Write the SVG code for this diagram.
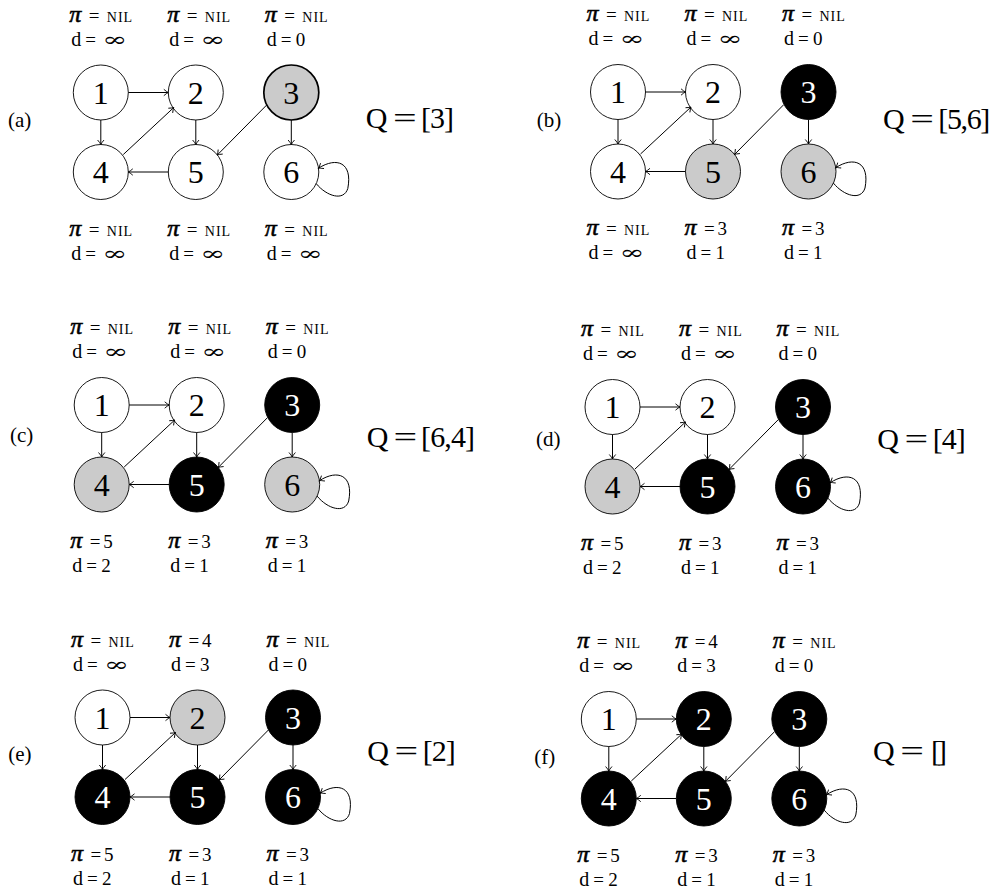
<svg xmlns="http://www.w3.org/2000/svg" width="992" height="892" viewBox="0 0 992 892">
<defs>
<marker id="arr" viewBox="-6 -5 8 10" markerWidth="8" markerHeight="10" refX="0" refY="0" orient="auto" markerUnits="userSpaceOnUse">
<path d="M-4.5,-3.2 Q-1.5,-0.6 0,0 Q-1.5,0.6 -4.5,3.2" fill="none" stroke="#000" stroke-width="0.9"/>
</marker>
<style>
.t{font-family:"Liberation Serif","DejaVu Serif",serif;fill:#000}
.nd{stroke:#000;stroke-width:0.9}
.w{fill:#fff}.g{fill:#cbcbcb}.b{fill:#000}
.thick{stroke-width:1.7}
.num{font-family:"Liberation Serif","DejaVu Serif",serif;font-size:32px;text-anchor:middle;fill:#000}
.num.wt{fill:#fff}
.e{fill:none;stroke:#000;stroke-width:1;marker-end:url(#arr)}
.pi{font-style:italic;font-size:24px;stroke:#000;stroke-width:0.6}
.eq{font-size:19px}
.nil{font-size:14px;letter-spacing:1px}
.dd{font-size:20px}
.v{font-size:19px}
.inf{font-size:19px;font-family:"DejaVu Serif","Liberation Serif",serif}
.lab{font-size:21px}
.q{font-size:30px}
</style>
</defs>
<rect width="992" height="892" fill="#fff"/>

<!-- ===================== (a) ===================== -->
<g id="panel-a">
<text class="t lab" x="8" y="127">(a)</text>
<text class="t q" x="365.7" y="128">Q</text>
<text class="t q" transform="translate(392.9,128) scale(1.4,1)">=</text>
<text class="t q" x="421" y="128" textLength="33">[3]</text>
<g transform="translate(100.8,92.5)">
<g id="a-n1"><circle class="nd w" cx="0" cy="0" r="27.5"/><text class="num" x="0" y="11">1</text></g>
<g id="a-n2"><circle class="nd w" cx="95" cy="0" r="27.5"/><text class="num" x="95" y="11">2</text></g>
<g id="a-n3"><circle class="nd g thick" cx="190.5" cy="0" r="27.5"/><text class="num" x="190.5" y="11">3</text></g>
<g id="a-n4"><circle class="nd w" cx="0" cy="79.5" r="27.5"/><text class="num" x="0" y="90.5">4</text></g>
<g id="a-n5"><circle class="nd w" cx="95" cy="79.5" r="27.5"/><text class="num" x="95" y="90.5">5</text></g>
<g id="a-n6"><circle class="nd w" cx="190.5" cy="79.5" r="27.5"/><text class="num" x="190.5" y="90.5">6</text></g>
<g id="a-edges">
<path class="e" d="M27.5,0 H67.5"/>
<path class="e" d="M0,27.5 V52"/>
<path class="e" d="M95,27.5 V52"/>
<path class="e" d="M190.5,27.5 V52"/>
<path class="e" d="M67.5,79.5 H27.5"/>
<path class="e" d="M22.5,62 L73,15"/>
<path class="e" d="M165.9,12.5 L116.5,62.5"/>
<path class="e" d="M215.4,91.1 C226,104 243,109 247,96 C252,70 236,64 217.7,75.7"/>
</g>
<g id="a-labels">
<text class="t" y="-71"><tspan class="pi" x="-31.5">π</tspan><tspan class="eq" x="-12">=</tspan><tspan class="nil" x="6">NIL</tspan></text>
<text class="t" y="-47"><tspan class="dd" x="-29.5">d</tspan><tspan class="eq" x="-15.5">=</tspan></text><text class="t inf" x="1.5" y="-47" textLength="25" lengthAdjust="spacingAndGlyphs">∞</text>
<text class="t" y="-71"><tspan class="pi" x="66.5">π</tspan><tspan class="eq" x="86">=</tspan><tspan class="nil" x="104">NIL</tspan></text>
<text class="t" y="-47"><tspan class="dd" x="68.5">d</tspan><tspan class="eq" x="82.5">=</tspan></text><text class="t inf" x="99.5" y="-47" textLength="25" lengthAdjust="spacingAndGlyphs">∞</text>
<text class="t" y="-71"><tspan class="pi" x="164">π</tspan><tspan class="eq" x="183.5">=</tspan><tspan class="nil" x="201.5">NIL</tspan></text>
<text class="t" y="-47"><tspan class="dd" x="166">d</tspan><tspan class="eq" x="180">=</tspan><tspan class="v" x="195">0</tspan></text>
<text class="t" y="143"><tspan class="pi" x="-31.5">π</tspan><tspan class="eq" x="-12">=</tspan><tspan class="nil" x="6">NIL</tspan></text>
<text class="t" y="167"><tspan class="dd" x="-29.5">d</tspan><tspan class="eq" x="-15.5">=</tspan></text><text class="t inf" x="1.5" y="167" textLength="25" lengthAdjust="spacingAndGlyphs">∞</text>
<text class="t" y="143"><tspan class="pi" x="66.5">π</tspan><tspan class="eq" x="86">=</tspan><tspan class="nil" x="104">NIL</tspan></text>
<text class="t" y="167"><tspan class="dd" x="68.5">d</tspan><tspan class="eq" x="82.5">=</tspan></text><text class="t inf" x="99.5" y="167" textLength="25" lengthAdjust="spacingAndGlyphs">∞</text>
<text class="t" y="143"><tspan class="pi" x="164">π</tspan><tspan class="eq" x="183.5">=</tspan><tspan class="nil" x="201.5">NIL</tspan></text>
<text class="t" y="167"><tspan class="dd" x="166">d</tspan><tspan class="eq" x="180">=</tspan></text><text class="t inf" x="197" y="167" textLength="25" lengthAdjust="spacingAndGlyphs">∞</text>
</g>
</g>
</g>

<!-- ===================== (b) ===================== -->
<g id="panel-b">
<text class="t lab" x="536.7" y="127">(b)</text>
<text class="t q" x="883" y="129">Q</text>
<text class="t q" transform="translate(910.3,129) scale(1.4,1)">=</text>
<text class="t q" x="938.3" y="129" textLength="52">[5,6]</text>
<g transform="translate(618,92)">
<g id="b-n1"><circle class="nd w" cx="0" cy="0" r="27.5"/><text class="num" x="0" y="11">1</text></g>
<g id="b-n2"><circle class="nd w" cx="95" cy="0" r="27.5"/><text class="num" x="95" y="11">2</text></g>
<g id="b-n3"><circle class="nd b" cx="190.5" cy="0" r="27.5"/><text class="num wt" x="190.5" y="11">3</text></g>
<g id="b-n4"><circle class="nd w" cx="0" cy="79.5" r="27.5"/><text class="num" x="0" y="90.5">4</text></g>
<g id="b-n5"><circle class="nd g" cx="95" cy="79.5" r="27.5"/><text class="num" x="95" y="90.5">5</text></g>
<g id="b-n6"><circle class="nd g" cx="190.5" cy="79.5" r="27.5"/><text class="num" x="190.5" y="90.5">6</text></g>
<g id="b-edges">
<path class="e" d="M27.5,0 H67.5"/>
<path class="e" d="M0,27.5 V52"/>
<path class="e" d="M95,27.5 V52"/>
<path class="e" d="M190.5,27.5 V52"/>
<path class="e" d="M67.5,79.5 H27.5"/>
<path class="e" d="M22.5,62 L73,15"/>
<path class="e" d="M165.9,12.5 L116.5,62.5"/>
<path class="e" d="M215.4,91.1 C226,104 243,109 247,96 C252,70 236,64 217.7,75.7"/>
</g>
<g id="b-labels">
<text class="t" y="-71"><tspan class="pi" x="-31.5">π</tspan><tspan class="eq" x="-12">=</tspan><tspan class="nil" x="6">NIL</tspan></text>
<text class="t" y="-47"><tspan class="dd" x="-29.5">d</tspan><tspan class="eq" x="-15.5">=</tspan></text><text class="t inf" x="1.5" y="-47" textLength="25" lengthAdjust="spacingAndGlyphs">∞</text>
<text class="t" y="-71"><tspan class="pi" x="66.5">π</tspan><tspan class="eq" x="86">=</tspan><tspan class="nil" x="104">NIL</tspan></text>
<text class="t" y="-47"><tspan class="dd" x="68.5">d</tspan><tspan class="eq" x="82.5">=</tspan></text><text class="t inf" x="99.5" y="-47" textLength="25" lengthAdjust="spacingAndGlyphs">∞</text>
<text class="t" y="-71"><tspan class="pi" x="164">π</tspan><tspan class="eq" x="183.5">=</tspan><tspan class="nil" x="201.5">NIL</tspan></text>
<text class="t" y="-47"><tspan class="dd" x="166">d</tspan><tspan class="eq" x="180">=</tspan><tspan class="v" x="195">0</tspan></text>
<text class="t" y="143"><tspan class="pi" x="-31.5">π</tspan><tspan class="eq" x="-12">=</tspan><tspan class="nil" x="6">NIL</tspan></text>
<text class="t" y="167"><tspan class="dd" x="-29.5">d</tspan><tspan class="eq" x="-15.5">=</tspan></text><text class="t inf" x="1.5" y="167" textLength="25" lengthAdjust="spacingAndGlyphs">∞</text>
<text class="t" y="143"><tspan class="pi" x="66.5">π</tspan><tspan class="eq" x="86">=</tspan><tspan class="v" x="99.5">3</tspan></text>
<text class="t" y="167"><tspan class="dd" x="68.5">d</tspan><tspan class="eq" x="82.5">=</tspan><tspan class="v" x="97.5">1</tspan></text>
<text class="t" y="143"><tspan class="pi" x="164">π</tspan><tspan class="eq" x="183.5">=</tspan><tspan class="v" x="197">3</tspan></text>
<text class="t" y="167"><tspan class="dd" x="166">d</tspan><tspan class="eq" x="180">=</tspan><tspan class="v" x="195">1</tspan></text>
</g>
</g>
</g>

<!-- ===================== (c) ===================== -->
<g id="panel-c">
<text class="t lab" x="10" y="442">(c)</text>
<text class="t q" x="366.7" y="446.5">Q</text>
<text class="t q" transform="translate(393.6,446.5) scale(1.4,1)">=</text>
<text class="t q" x="421" y="446.5" textLength="54">[6,4]</text>
<g transform="translate(101.7,405)">
<g id="c-n1"><circle class="nd w" cx="0" cy="0" r="27.5"/><text class="num" x="0" y="11">1</text></g>
<g id="c-n2"><circle class="nd w" cx="95" cy="0" r="27.5"/><text class="num" x="95" y="11">2</text></g>
<g id="c-n3"><circle class="nd b" cx="190.5" cy="0" r="27.5"/><text class="num wt" x="190.5" y="11">3</text></g>
<g id="c-n4"><circle class="nd g" cx="0" cy="79.5" r="27.5"/><text class="num" x="0" y="90.5">4</text></g>
<g id="c-n5"><circle class="nd b" cx="95" cy="79.5" r="27.5"/><text class="num wt" x="95" y="90.5">5</text></g>
<g id="c-n6"><circle class="nd g" cx="190.5" cy="79.5" r="27.5"/><text class="num" x="190.5" y="90.5">6</text></g>
<g id="c-edges">
<path class="e" d="M27.5,0 H67.5"/>
<path class="e" d="M0,27.5 V52"/>
<path class="e" d="M95,27.5 V52"/>
<path class="e" d="M190.5,27.5 V52"/>
<path class="e" d="M67.5,79.5 H27.5"/>
<path class="e" d="M22.5,62 L73,15"/>
<path class="e" d="M165.9,12.5 L116.5,62.5"/>
<path class="e" d="M215.4,91.1 C226,104 243,109 247,96 C252,70 236,64 217.7,75.7"/>
</g>
<g id="c-labels">
<text class="t" y="-71"><tspan class="pi" x="-31.5">π</tspan><tspan class="eq" x="-12">=</tspan><tspan class="nil" x="6">NIL</tspan></text>
<text class="t" y="-47"><tspan class="dd" x="-29.5">d</tspan><tspan class="eq" x="-15.5">=</tspan></text><text class="t inf" x="1.5" y="-47" textLength="25" lengthAdjust="spacingAndGlyphs">∞</text>
<text class="t" y="-71"><tspan class="pi" x="66.5">π</tspan><tspan class="eq" x="86">=</tspan><tspan class="nil" x="104">NIL</tspan></text>
<text class="t" y="-47"><tspan class="dd" x="68.5">d</tspan><tspan class="eq" x="82.5">=</tspan></text><text class="t inf" x="99.5" y="-47" textLength="25" lengthAdjust="spacingAndGlyphs">∞</text>
<text class="t" y="-71"><tspan class="pi" x="164">π</tspan><tspan class="eq" x="183.5">=</tspan><tspan class="nil" x="201.5">NIL</tspan></text>
<text class="t" y="-47"><tspan class="dd" x="166">d</tspan><tspan class="eq" x="180">=</tspan><tspan class="v" x="195">0</tspan></text>
<text class="t" y="143"><tspan class="pi" x="-31.5">π</tspan><tspan class="eq" x="-12">=</tspan><tspan class="v" x="1.5">5</tspan></text>
<text class="t" y="167"><tspan class="dd" x="-29.5">d</tspan><tspan class="eq" x="-15.5">=</tspan><tspan class="v" x="-0.5">2</tspan></text>
<text class="t" y="143"><tspan class="pi" x="66.5">π</tspan><tspan class="eq" x="86">=</tspan><tspan class="v" x="99.5">3</tspan></text>
<text class="t" y="167"><tspan class="dd" x="68.5">d</tspan><tspan class="eq" x="82.5">=</tspan><tspan class="v" x="97.5">1</tspan></text>
<text class="t" y="143"><tspan class="pi" x="164">π</tspan><tspan class="eq" x="183.5">=</tspan><tspan class="v" x="197">3</tspan></text>
<text class="t" y="167"><tspan class="dd" x="166">d</tspan><tspan class="eq" x="180">=</tspan><tspan class="v" x="195">1</tspan></text>
</g>
</g>
</g>

<!-- ===================== (d) ===================== -->
<g id="panel-d">
<text class="t lab" x="536" y="446">(d)</text>
<text class="t q" x="877.3" y="449">Q</text>
<text class="t q" transform="translate(904.6,449) scale(1.4,1)">=</text>
<text class="t q" x="932.7" y="449" textLength="33">[4]</text>
<g transform="translate(612.5,407)">
<g id="d-n1"><circle class="nd w" cx="0" cy="0" r="27.5"/><text class="num" x="0" y="11">1</text></g>
<g id="d-n2"><circle class="nd w" cx="95" cy="0" r="27.5"/><text class="num" x="95" y="11">2</text></g>
<g id="d-n3"><circle class="nd b" cx="190.5" cy="0" r="27.5"/><text class="num wt" x="190.5" y="11">3</text></g>
<g id="d-n4"><circle class="nd g" cx="0" cy="79.5" r="27.5"/><text class="num" x="0" y="90.5">4</text></g>
<g id="d-n5"><circle class="nd b" cx="95" cy="79.5" r="27.5"/><text class="num wt" x="95" y="90.5">5</text></g>
<g id="d-n6"><circle class="nd b" cx="190.5" cy="79.5" r="27.5"/><text class="num wt" x="190.5" y="90.5">6</text></g>
<g id="d-edges">
<path class="e" d="M27.5,0 H67.5"/>
<path class="e" d="M0,27.5 V52"/>
<path class="e" d="M95,27.5 V52"/>
<path class="e" d="M190.5,27.5 V52"/>
<path class="e" d="M67.5,79.5 H27.5"/>
<path class="e" d="M22.5,62 L73,15"/>
<path class="e" d="M165.9,12.5 L116.5,62.5"/>
<path class="e" d="M215.4,91.1 C226,104 243,109 247,96 C252,70 236,64 217.7,75.7"/>
</g>
<g id="d-labels">
<text class="t" y="-71"><tspan class="pi" x="-31.5">π</tspan><tspan class="eq" x="-12">=</tspan><tspan class="nil" x="6">NIL</tspan></text>
<text class="t" y="-47"><tspan class="dd" x="-29.5">d</tspan><tspan class="eq" x="-15.5">=</tspan></text><text class="t inf" x="1.5" y="-47" textLength="25" lengthAdjust="spacingAndGlyphs">∞</text>
<text class="t" y="-71"><tspan class="pi" x="66.5">π</tspan><tspan class="eq" x="86">=</tspan><tspan class="nil" x="104">NIL</tspan></text>
<text class="t" y="-47"><tspan class="dd" x="68.5">d</tspan><tspan class="eq" x="82.5">=</tspan></text><text class="t inf" x="99.5" y="-47" textLength="25" lengthAdjust="spacingAndGlyphs">∞</text>
<text class="t" y="-71"><tspan class="pi" x="164">π</tspan><tspan class="eq" x="183.5">=</tspan><tspan class="nil" x="201.5">NIL</tspan></text>
<text class="t" y="-47"><tspan class="dd" x="166">d</tspan><tspan class="eq" x="180">=</tspan><tspan class="v" x="195">0</tspan></text>
<text class="t" y="143"><tspan class="pi" x="-31.5">π</tspan><tspan class="eq" x="-12">=</tspan><tspan class="v" x="1.5">5</tspan></text>
<text class="t" y="167"><tspan class="dd" x="-29.5">d</tspan><tspan class="eq" x="-15.5">=</tspan><tspan class="v" x="-0.5">2</tspan></text>
<text class="t" y="143"><tspan class="pi" x="66.5">π</tspan><tspan class="eq" x="86">=</tspan><tspan class="v" x="99.5">3</tspan></text>
<text class="t" y="167"><tspan class="dd" x="68.5">d</tspan><tspan class="eq" x="82.5">=</tspan><tspan class="v" x="97.5">1</tspan></text>
<text class="t" y="143"><tspan class="pi" x="164">π</tspan><tspan class="eq" x="183.5">=</tspan><tspan class="v" x="197">3</tspan></text>
<text class="t" y="167"><tspan class="dd" x="166">d</tspan><tspan class="eq" x="180">=</tspan><tspan class="v" x="195">1</tspan></text>
</g>
</g>
</g>

<!-- ===================== (e) ===================== -->
<g id="panel-e">
<text class="t lab" x="8.3" y="761">(e)</text>
<text class="t q" x="367.3" y="761">Q</text>
<text class="t q" transform="translate(394.6,761) scale(1.4,1)">=</text>
<text class="t q" x="422.7" y="761" textLength="33">[2]</text>
<g transform="translate(102.5,717.5)">
<g id="e-n1"><circle class="nd w" cx="0" cy="0" r="27.5"/><text class="num" x="0" y="11">1</text></g>
<g id="e-n2"><circle class="nd g" cx="95" cy="0" r="27.5"/><text class="num" x="95" y="11">2</text></g>
<g id="e-n3"><circle class="nd b" cx="190.5" cy="0" r="27.5"/><text class="num wt" x="190.5" y="11">3</text></g>
<g id="e-n4"><circle class="nd b" cx="0" cy="79.5" r="27.5"/><text class="num wt" x="0" y="90.5">4</text></g>
<g id="e-n5"><circle class="nd b" cx="95" cy="79.5" r="27.5"/><text class="num wt" x="95" y="90.5">5</text></g>
<g id="e-n6"><circle class="nd b" cx="190.5" cy="79.5" r="27.5"/><text class="num wt" x="190.5" y="90.5">6</text></g>
<g id="e-edges">
<path class="e" d="M27.5,0 H67.5"/>
<path class="e" d="M0,27.5 V52"/>
<path class="e" d="M95,27.5 V52"/>
<path class="e" d="M190.5,27.5 V52"/>
<path class="e" d="M67.5,79.5 H27.5"/>
<path class="e" d="M22.5,62 L73,15"/>
<path class="e" d="M165.9,12.5 L116.5,62.5"/>
<path class="e" d="M215.4,91.1 C226,104 243,109 247,96 C252,70 236,64 217.7,75.7"/>
</g>
<g id="e-labels">
<text class="t" y="-71"><tspan class="pi" x="-31.5">π</tspan><tspan class="eq" x="-12">=</tspan><tspan class="nil" x="6">NIL</tspan></text>
<text class="t" y="-47"><tspan class="dd" x="-29.5">d</tspan><tspan class="eq" x="-15.5">=</tspan></text><text class="t inf" x="1.5" y="-47" textLength="25" lengthAdjust="spacingAndGlyphs">∞</text>
<text class="t" y="-71"><tspan class="pi" x="66.5">π</tspan><tspan class="eq" x="86">=</tspan><tspan class="v" x="99.5">4</tspan></text>
<text class="t" y="-47"><tspan class="dd" x="68.5">d</tspan><tspan class="eq" x="82.5">=</tspan><tspan class="v" x="97.5">3</tspan></text>
<text class="t" y="-71"><tspan class="pi" x="164">π</tspan><tspan class="eq" x="183.5">=</tspan><tspan class="nil" x="201.5">NIL</tspan></text>
<text class="t" y="-47"><tspan class="dd" x="166">d</tspan><tspan class="eq" x="180">=</tspan><tspan class="v" x="195">0</tspan></text>
<text class="t" y="143"><tspan class="pi" x="-31.5">π</tspan><tspan class="eq" x="-12">=</tspan><tspan class="v" x="1.5">5</tspan></text>
<text class="t" y="167"><tspan class="dd" x="-29.5">d</tspan><tspan class="eq" x="-15.5">=</tspan><tspan class="v" x="-0.5">2</tspan></text>
<text class="t" y="143"><tspan class="pi" x="66.5">π</tspan><tspan class="eq" x="86">=</tspan><tspan class="v" x="99.5">3</tspan></text>
<text class="t" y="167"><tspan class="dd" x="68.5">d</tspan><tspan class="eq" x="82.5">=</tspan><tspan class="v" x="97.5">1</tspan></text>
<text class="t" y="143"><tspan class="pi" x="164">π</tspan><tspan class="eq" x="183.5">=</tspan><tspan class="v" x="197">3</tspan></text>
<text class="t" y="167"><tspan class="dd" x="166">d</tspan><tspan class="eq" x="180">=</tspan><tspan class="v" x="195">1</tspan></text>
</g>
</g>
</g>

<!-- ===================== (f) ===================== -->
<g id="panel-f">
<text class="t lab" x="534.3" y="764">(f)</text>
<text class="t q" x="873" y="761">Q</text>
<text class="t q" transform="translate(900.3,761) scale(1.4,1)">=</text>
<text class="t q" x="931" y="761" textLength="16">[]</text>
<g transform="translate(608.8,719)">
<g id="f-n1"><circle class="nd w" cx="0" cy="0" r="27.5"/><text class="num" x="0" y="11">1</text></g>
<g id="f-n2"><circle class="nd b" cx="95" cy="0" r="27.5"/><text class="num wt" x="95" y="11">2</text></g>
<g id="f-n3"><circle class="nd b" cx="190.5" cy="0" r="27.5"/><text class="num wt" x="190.5" y="11">3</text></g>
<g id="f-n4"><circle class="nd b" cx="0" cy="79.5" r="27.5"/><text class="num wt" x="0" y="90.5">4</text></g>
<g id="f-n5"><circle class="nd b" cx="95" cy="79.5" r="27.5"/><text class="num wt" x="95" y="90.5">5</text></g>
<g id="f-n6"><circle class="nd b" cx="190.5" cy="79.5" r="27.5"/><text class="num wt" x="190.5" y="90.5">6</text></g>
<g id="f-edges">
<path class="e" d="M27.5,0 H67.5"/>
<path class="e" d="M0,27.5 V52"/>
<path class="e" d="M95,27.5 V52"/>
<path class="e" d="M190.5,27.5 V52"/>
<path class="e" d="M67.5,79.5 H27.5"/>
<path class="e" d="M22.5,62 L73,15"/>
<path class="e" d="M165.9,12.5 L116.5,62.5"/>
<path class="e" d="M215.4,91.1 C226,104 243,109 247,96 C252,70 236,64 217.7,75.7"/>
</g>
<g id="f-labels">
<text class="t" y="-71"><tspan class="pi" x="-31.5">π</tspan><tspan class="eq" x="-12">=</tspan><tspan class="nil" x="6">NIL</tspan></text>
<text class="t" y="-47"><tspan class="dd" x="-29.5">d</tspan><tspan class="eq" x="-15.5">=</tspan></text><text class="t inf" x="1.5" y="-47" textLength="25" lengthAdjust="spacingAndGlyphs">∞</text>
<text class="t" y="-71"><tspan class="pi" x="66.5">π</tspan><tspan class="eq" x="86">=</tspan><tspan class="v" x="99.5">4</tspan></text>
<text class="t" y="-47"><tspan class="dd" x="68.5">d</tspan><tspan class="eq" x="82.5">=</tspan><tspan class="v" x="97.5">3</tspan></text>
<text class="t" y="-71"><tspan class="pi" x="164">π</tspan><tspan class="eq" x="183.5">=</tspan><tspan class="nil" x="201.5">NIL</tspan></text>
<text class="t" y="-47"><tspan class="dd" x="166">d</tspan><tspan class="eq" x="180">=</tspan><tspan class="v" x="195">0</tspan></text>
<text class="t" y="143"><tspan class="pi" x="-31.5">π</tspan><tspan class="eq" x="-12">=</tspan><tspan class="v" x="1.5">5</tspan></text>
<text class="t" y="167"><tspan class="dd" x="-29.5">d</tspan><tspan class="eq" x="-15.5">=</tspan><tspan class="v" x="-0.5">2</tspan></text>
<text class="t" y="143"><tspan class="pi" x="66.5">π</tspan><tspan class="eq" x="86">=</tspan><tspan class="v" x="99.5">3</tspan></text>
<text class="t" y="167"><tspan class="dd" x="68.5">d</tspan><tspan class="eq" x="82.5">=</tspan><tspan class="v" x="97.5">1</tspan></text>
<text class="t" y="143"><tspan class="pi" x="164">π</tspan><tspan class="eq" x="183.5">=</tspan><tspan class="v" x="197">3</tspan></text>
<text class="t" y="167"><tspan class="dd" x="166">d</tspan><tspan class="eq" x="180">=</tspan><tspan class="v" x="195">1</tspan></text>
</g>
</g>
</g>
</svg>
